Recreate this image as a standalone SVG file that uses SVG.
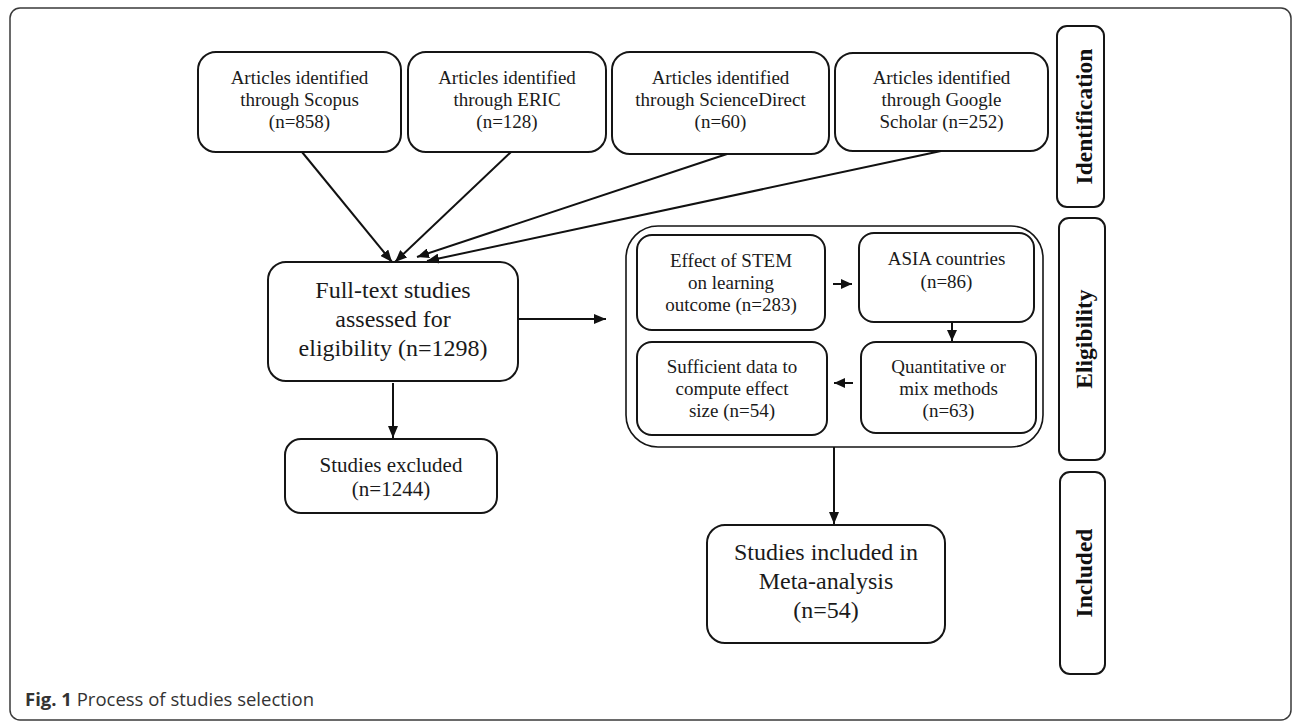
<svg xmlns="http://www.w3.org/2000/svg" width="1292" height="722" viewBox="0 0 1292 722">
<style>
.box{fill:#fff;stroke:#151515;stroke-width:2}
.outer{fill:none;stroke:#151515;stroke-width:1.6}
.frame{fill:#fff;stroke:#3a3a3a;stroke-width:1.5}
.t{font-family:"Liberation Serif","Times New Roman",serif;fill:#1a1a1a;text-anchor:middle}
.s19{font-size:19px}
.s21{font-size:21px}
.s24{font-size:24px}
.lab{font-family:"Liberation Serif","Times New Roman",serif;font-weight:bold;font-size:23.5px;fill:#111;text-anchor:middle}
.cap{font-family:"Open Sans","Noto Sans",sans-serif;font-size:18.5px;fill:#333}
.ln{fill:none;stroke:#111;stroke-width:2}
</style>
<defs>
<marker id="ah" viewBox="0 0 12 10" refX="12" refY="5" markerWidth="12" markerHeight="10" markerUnits="userSpaceOnUse" orient="auto">
<path d="M0,0 L12,5 L0,10 z" fill="#111"/>
</marker>
<marker id="ahs" viewBox="0 0 11 10" refX="11" refY="5" markerWidth="11" markerHeight="10" markerUnits="userSpaceOnUse" orient="auto">
<path d="M0,0 L11,5 L0,10 z" fill="#111"/>
</marker>
</defs>
<rect class="frame" x="10" y="8" width="1281" height="712" rx="10"/>
<text class="cap" x="25" y="706"><tspan font-weight="bold">Fig. 1</tspan> Process of studies selection</text>

<g id="scopus">
<rect class="box" x="198" y="52" width="203" height="100" rx="18"/>
<text class="t s19" x="299.5" y="84">Articles identified</text>
<text class="t s19" x="299.5" y="106">through Scopus</text>
<text class="t s19" x="299.5" y="128">(n=858)</text>
</g>
<g id="eric">
<rect class="box" x="408" y="52" width="198" height="100" rx="18"/>
<text class="t s19" x="507" y="84">Articles identified</text>
<text class="t s19" x="507" y="106">through ERIC</text>
<text class="t s19" x="507" y="128">(n=128)</text>
</g>
<g id="sciencedirect">
<rect class="box" x="612" y="52" width="217" height="102" rx="18"/>
<text class="t s19" x="720.5" y="84">Articles identified</text>
<text class="t s19" x="720.5" y="106">through ScienceDirect</text>
<text class="t s19" x="720.5" y="128">(n=60)</text>
</g>
<g id="google">
<rect class="box" x="835" y="53" width="213" height="98" rx="18"/>
<text class="t s19" x="941.5" y="84">Articles identified</text>
<text class="t s19" x="941.5" y="106">through Google</text>
<text class="t s19" x="941.5" y="128">Scholar (n=252)</text>
</g>

<g id="label-identification">
<rect class="box" x="1057" y="26" width="47" height="181" rx="10"/>
<text class="lab" transform="translate(1091.5 116.5) rotate(-90)">Identification</text>
</g>
<g id="label-eligibility">
<rect class="box" x="1059" y="218" width="46" height="242" rx="10"/>
<text class="lab" transform="translate(1091.5 339) rotate(-90)">Eligibility</text>
</g>
<g id="label-included">
<rect class="box" x="1060" y="472" width="45" height="202" rx="10"/>
<text class="lab" transform="translate(1092 573) rotate(-90)">Included</text>
</g>

<g id="fulltext">
<rect class="box" x="268" y="262" width="250" height="119" rx="18"/>
<text class="t s24" x="393" y="298">Full-text studies</text>
<text class="t s24" x="393" y="327">assessed for</text>
<text class="t s24" x="393" y="356">eligibility (n=1298)</text>
</g>
<g id="excluded">
<rect class="box" x="285" y="439" width="212" height="74" rx="16"/>
<text class="t s21" x="391" y="472">Studies excluded</text>
<text class="t s21" x="391" y="496">(n=1244)</text>
</g>

<g id="eligibility-group">
<rect class="outer" x="626" y="226" width="417" height="221" rx="32"/>
</g>
<g id="effect">
<rect class="box" x="637" y="235" width="188" height="95" rx="15"/>
<text class="t s19" x="731" y="267">Effect of STEM</text>
<text class="t s19" x="731" y="289">on learning</text>
<text class="t s19" x="731" y="311">outcome (n=283)</text>
</g>
<g id="asia">
<rect class="box" x="859" y="233" width="175" height="89" rx="15"/>
<text class="t s19" x="946.5" y="265">ASIA countries</text>
<text class="t s19" x="946.5" y="288">(n=86)</text>
</g>
<g id="quantitative">
<rect class="box" x="861" y="342" width="175" height="91" rx="15"/>
<text class="t s19" x="948.5" y="373">Quantitative or</text>
<text class="t s19" x="948.5" y="395">mix methods</text>
<text class="t s19" x="948.5" y="417">(n=63)</text>
</g>
<g id="sufficient">
<rect class="box" x="637" y="342" width="190" height="93" rx="15"/>
<text class="t s19" x="732" y="373">Sufficient data to</text>
<text class="t s19" x="732" y="395">compute effect</text>
<text class="t s19" x="732" y="417">size (n=54)</text>
</g>
<g id="meta">
<rect class="box" x="707" y="525" width="238" height="118" rx="18"/>
<text class="t s24" x="826" y="560">Studies included in</text>
<text class="t s24" x="826" y="589">Meta-analysis</text>
<text class="t s24" x="826" y="618">(n=54)</text>
</g>

<g id="connectors">
<line class="ln" x1="302" y1="152" x2="392" y2="262" marker-end="url(#ah)"/>
<line class="ln" x1="511" y1="152" x2="395" y2="262" marker-end="url(#ah)"/>
<line class="ln" x1="727" y1="154" x2="417" y2="257" marker-end="url(#ah)"/>
<line class="ln" x1="941" y1="151" x2="427" y2="261" marker-end="url(#ah)"/>
<line class="ln" x1="519" y1="319" x2="606" y2="319" marker-end="url(#ah)"/>
<line class="ln" x1="393" y1="383" x2="393" y2="438" marker-end="url(#ah)"/>
<line class="ln" x1="833" y1="284" x2="852" y2="284" marker-end="url(#ahs)"/>
<line class="ln" x1="952" y1="322" x2="952" y2="341" marker-end="url(#ahs)"/>
<line class="ln" x1="853" y1="383" x2="834" y2="383" marker-end="url(#ahs)"/>
<line class="ln" x1="834" y1="447" x2="834" y2="524" marker-end="url(#ah)"/>
</g>
</svg>
